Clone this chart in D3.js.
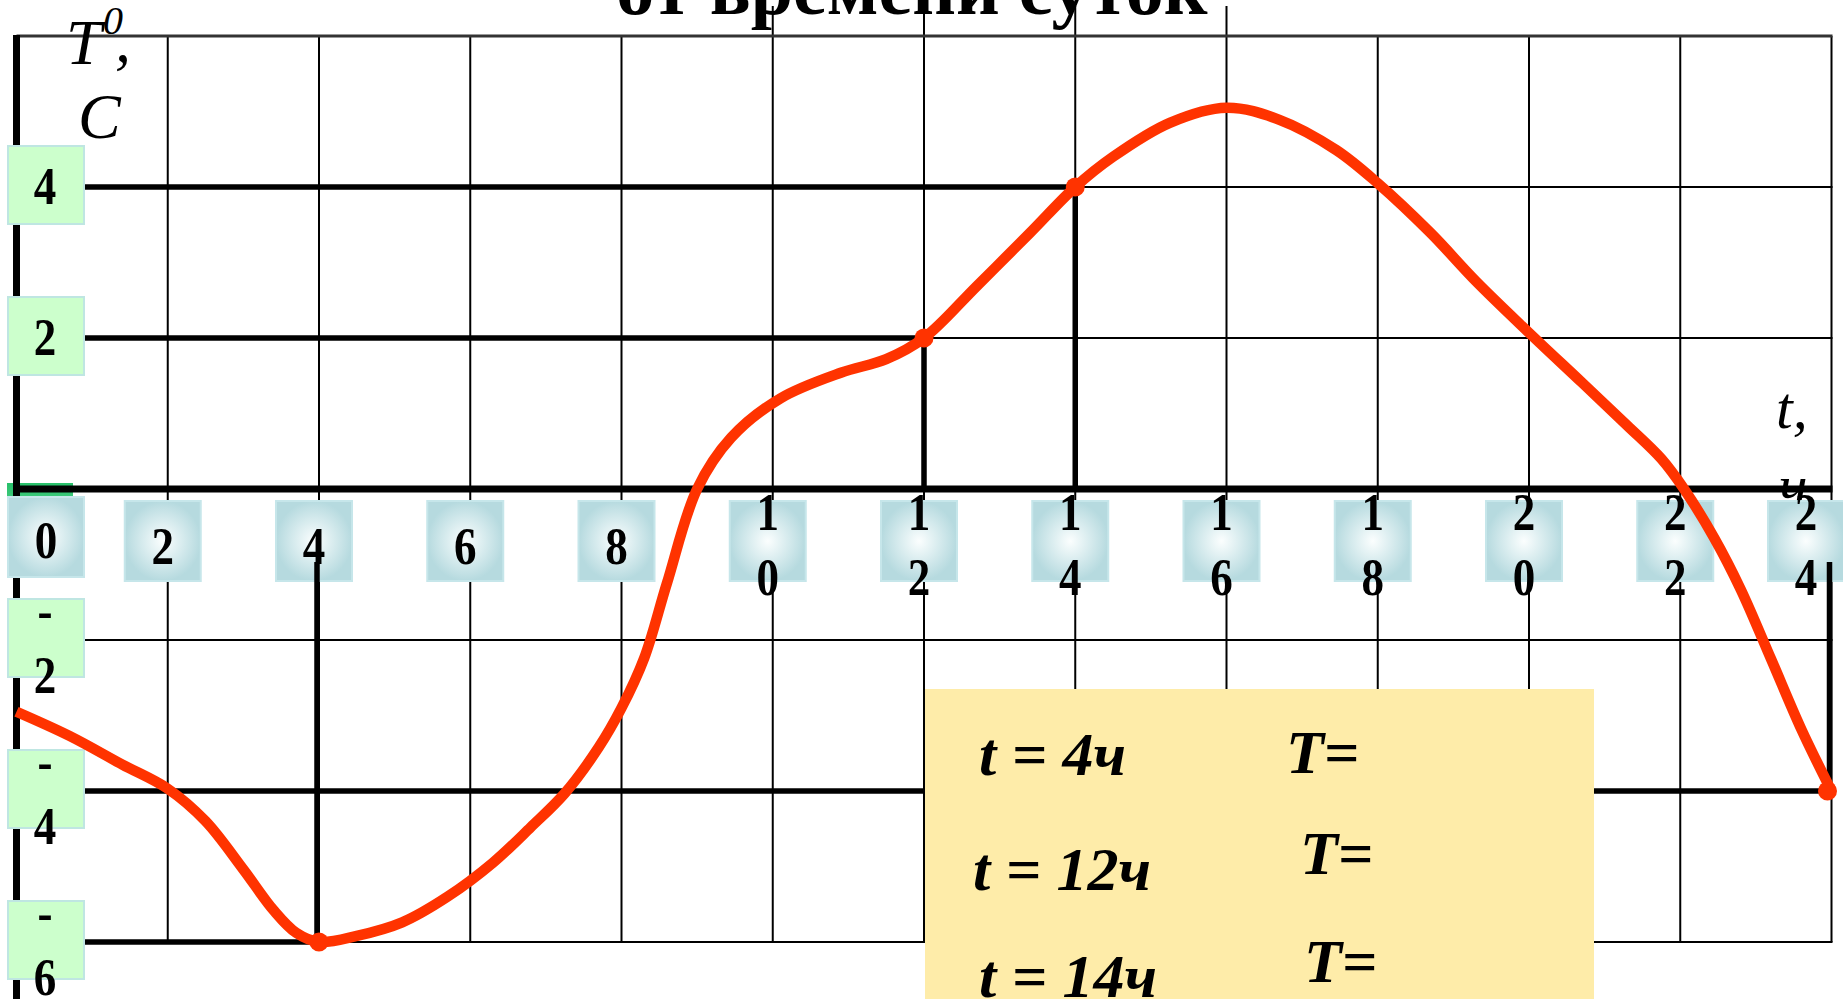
<!doctype html>
<html>
<head>
<meta charset="utf-8">
<script src="https://cdnjs.cloudflare.com/ajax/libs/d3/7.8.5/d3.min.js"></script>
<style>
body { margin: 0; background: #fff; overflow: hidden; }
svg { display: block; }
text { font-family: "Liberation Serif", "Times New Roman", serif; }
</style>
</head>
<body>
<svg id="chart" width="1843" height="999"></svg>
<script>
// temperature curve (hour, degrees)
var hours = [0, 0.7, 1.4, 2, 2.5, 3, 3.4, 3.7, 4, 4.5, 5.1, 5.7, 6.3, 6.8, 7.25, 7.7, 8, 8.3, 8.6, 9,
  9.45, 10.1, 10.9, 11.5, 12, 12.7, 13.4, 14, 14.5, 15.25, 16, 16.7, 17.45, 18, 18.7, 19.3, 20,
  20.7, 21.3, 21.75, 22.05, 22.45, 22.8, 23.2, 23.6, 24];
var temps = [-2.95, -3.27, -3.65, -3.97, -4.4, -5.04, -5.58, -5.88, -6, -5.92, -5.74, -5.4, -4.95, -4.48, -4.03, -3.42, -2.9, -2.24, -1.25, 0,
  0.68, 1.2, 1.54, 1.72, 2, 2.69, 3.39, 4, 4.4, 4.85, 5.05, 4.89, 4.49, 4.05, 3.39, 2.75, 2.07,
  1.41, 0.84, 0.4, 0, -0.65, -1.33, -2.25, -3.18, -4];

var markedHours = [4, 12, 14, 24];
var markedTemps = [-6, 2, 4, -4];

var xTicks = [0, 2, 4, 6, 8, 10, 12, 14, 16, 18, 20, 22, 24];
var yTicks = [4, 2, -2, -4, -6];
var yGrid = [6, 4, 2, -2, -4, -6];

var titleText = "от времени суток";
var questions = ["t = 4ч", "t = 12ч", "t = 14ч"];

var W = 1843, H = 999;
var x = d3.scaleLinear().domain([0, 24]).range([16.5, 1831.5]);
var y = d3.scaleLinear().domain([-6, 6]).range([942, 36]);
var svg = d3.select("#chart");

var defs = svg.append("defs");
var blue = defs.append("radialGradient").attr("id", "tickBlue");
blue.append("stop").attr("offset", "0%").attr("stop-color", "#fbfefe");
blue.append("stop").attr("offset", "100%").attr("stop-color", "#b6dadf");
var green = defs.append("linearGradient").attr("id", "originGreen")
  .attr("x1", 0).attr("x2", 0).attr("y1", 0).attr("y2", 1);
green.append("stop").attr("offset", "0%").attr("stop-color", "#27c06a");
green.append("stop").attr("offset", "100%").attr("stop-color", "#7fe0aa");

var points = hours.map((h, i) => ({h: h, t: temps[i]}));
var marked = markedHours.map((h, i) => ({h: h, t: markedTemps[i]}));

// green block peeking out behind the "0" box
svg.append("rect").attr("x", 7).attr("y", 483).attr("width", 66).attr("height", 60)
  .attr("fill", "url(#originGreen)");

// thin grid
svg.append("g").selectAll("line")
  .data(xTicks.slice(1))
  .enter().append("line")
  .attr("x1", d => x(d)).attr("x2", d => x(d))
  .attr("y1", d => (d >= 10 && d <= 16) ? 6 : y(6))
  .attr("y2", y(-6))
  .attr("stroke", "#000").attr("stroke-width", 2);

svg.append("g").selectAll("line")
  .data(yGrid)
  .enter().append("line")
  .attr("x1", x(0)).attr("x2", x(24) + 1)
  .attr("y1", d => y(d)).attr("y2", d => y(d))
  .attr("stroke", d => d === 6 ? "#333" : "#000")
  .attr("stroke-width", d => d === 6 ? 3 : 2);

// axes
svg.append("line").attr("x1", x(0)).attr("x2", x(24) + 1).attr("y1", y(0)).attr("y2", y(0))
  .attr("stroke", "#000").attr("stroke-width", 7);
svg.append("line").attr("x1", x(0)).attr("x2", x(0)).attr("y1", y(6) - 1).attr("y2", H)
  .attr("stroke", "#000").attr("stroke-width", 7);

// reference lines to the marked points
svg.append("g").selectAll("line")
  .data(marked)
  .enter().append("line")
  .attr("x1", x(0)).attr("x2", d => x(d.h))
  .attr("y1", d => y(d.t)).attr("y2", d => y(d.t))
  .attr("stroke", "#000").attr("stroke-width", 5.5);
svg.append("g").selectAll("line")
  .data(marked.filter(d => d.t > 0))
  .enter().append("line")
  .attr("x1", d => x(d.h)).attr("x2", d => x(d.h))
  .attr("y1", d => y(d.t)).attr("y2", y(0))
  .attr("stroke", "#000").attr("stroke-width", 5.5);

// title (second line, cut by the top edge)
svg.append("text").attr("x", 912).attr("y", 14)
  .attr("text-anchor", "middle").attr("font-size", 76).attr("font-weight", "bold")
  .text(titleText);

// question box
svg.append("rect").attr("x", 925).attr("y", 689).attr("width", 669).attr("height", 330)
  .attr("fill", "#feeca9");
var qTy = [775, 890, 997], qTx = [979, 973, 979];
var eqY = [773, 874, 982], eqX = [1286, 1300, 1304];
var q = svg.append("g").attr("font-size", 62).attr("font-weight", "bold").attr("font-style", "italic");
q.selectAll("text.q").data(questions).enter().append("text")
  .attr("class", "q").attr("x", (d, i) => qTx[i]).attr("y", (d, i) => qTy[i])
  .attr("xml:space", "preserve").text(d => d);
q.selectAll("text.eq").data(questions).enter().append("text")
  .attr("class", "eq").attr("x", (d, i) => eqX[i]).attr("y", (d, i) => eqY[i])
  .text("T=");

// axis titles
var yt = svg.append("text").attr("font-style", "italic").attr("font-size", 64);
yt.append("tspan").attr("x", 66).attr("y", 64).text("T");
yt.append("tspan").attr("x", 103).attr("y", 34).attr("font-size", 40).text("0");
yt.append("tspan").attr("x", 115).attr("y", 62).text(",");
svg.append("text").attr("font-style", "italic").attr("font-size", 64)
  .attr("x", 78).attr("y", 138).text("C");
svg.append("text").attr("font-style", "italic").attr("font-size", 60)
  .attr("x", 1776).attr("y", 428).text("t,");
svg.append("text").attr("font-style", "italic").attr("font-size", 60)
  .attr("x", 1779).attr("y", 506).text("ч");

// y tick boxes
var yBox = svg.append("g").selectAll("g")
  .data(yTicks)
  .enter().append("g");
yBox.append("rect")
  .attr("x", 8).attr("y", d => y(d) - 41).attr("width", 76).attr("height", 78)
  .attr("fill", "#ccffcc").attr("stroke", "#bfe6e2").attr("stroke-width", 2);
yBox.each(function(d) {
  var lines = d < 0 ? ["-", String(-d)] : [String(d)];
  var base = lines.length > 1 ? y(d) - 12 : y(d) + 17;
  d3.select(this).selectAll("text").data(lines).enter().append("text")
    .attr("transform", (s, i) => "translate(45," + (base + i * 65) + ") scale(0.85,1)")
    .attr("text-anchor", "middle").attr("font-size", 53).attr("font-weight", "bold")
    .text(s => s);
});

// x tick boxes
var xBox = svg.append("g").selectAll("g")
  .data(xTicks)
  .enter().append("g");
var boxCx = d => Math.max(46, Math.min(x(d) - 5, 1806));
xBox.append("rect")
  .attr("x", d => boxCx(d) - 38).attr("y", d => d === 0 ? 497 : 501).attr("width", 76).attr("height", 80)
  .attr("fill", "url(#tickBlue)").attr("stroke", "#c6e6ea").attr("stroke-width", 2);
xBox.each(function(d) {
  var lines = String(d).split("");
  var base = lines.length > 1 ? 530 : (d === 0 ? 558 : 564);
  d3.select(this).selectAll("text").data(lines).enter().append("text")
    .attr("transform", (s, i) => "translate(" + boxCx(d) + "," + (base + i * 65) + ") scale(0.85,1)")
    .attr("text-anchor", "middle").attr("font-size", 53).attr("font-weight", "bold")
    .text(s => s);
});

// drop lines below the axis are drawn over the boxes
svg.append("g").selectAll("line")
  .data(marked.filter(d => d.t < 0))
  .enter().append("line")
  .attr("x1", d => x(d.h) - 2).attr("x2", d => x(d.h) - 2)
  .attr("y1", d => y(d.t)).attr("y2", 562)
  .attr("stroke", "#000").attr("stroke-width", 5.5);

// temperature curve
var line = d3.line()
  .x(d => x(d.h))
  .y(d => y(d.t))
  .curve(d3.curveCatmullRom.alpha(0.5));

svg.append("path").datum(points)
  .attr("d", line)
  .attr("fill", "none").attr("stroke", "#ff3300").attr("stroke-width", 10.5)
  .attr("stroke-linejoin", "round");

svg.append("g").selectAll("circle")
  .data(marked)
  .enter().append("circle")
  .attr("cx", d => x(d.h) - (d.h === 24 ? 4 : 0)).attr("cy", d => y(d.t))
  .attr("r", 9.5).attr("fill", "#ff3300");
</script>
</body>
</html>
